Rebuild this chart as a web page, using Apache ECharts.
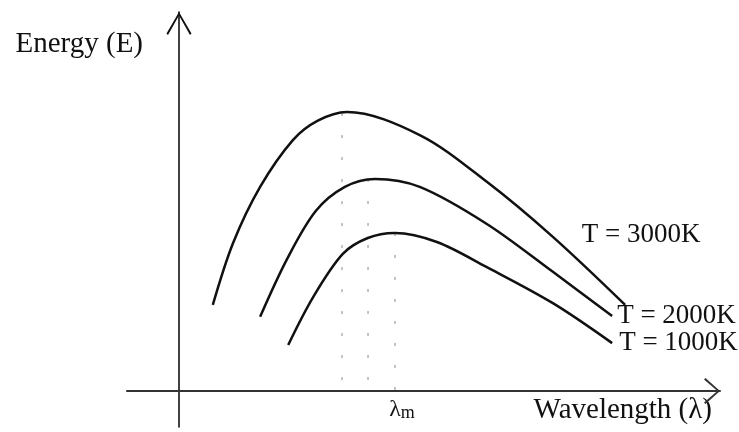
<!DOCTYPE html>
<html>
<head>
<meta charset="utf-8">
<script src="https://cdn.jsdelivr.net/npm/echarts@6/dist/echarts.min.js"></script>
<style>html,body{margin:0;padding:0;background:#fff}#c{width:739px;height:432px}</style>
</head>
<body>
<div id="c"></div>
<script>
// Wavelength (arbitrary units) and energy (arbitrary units)
const wl3000 = [0.65, 1.04, 1.56, 2.19, 2.67, 3.23, 4.63, 5.92, 7.19, 8.58];
const e3000  = [2.39, 4.11, 5.67, 6.97, 7.51, 7.75, 7.11, 5.81, 4.28, 2.39];
const wl2000 = [1.56, 2.08, 2.63, 3.19, 3.77, 4.63, 5.92, 7.19, 8.33];
const e2000  = [2.06, 3.67, 5.00, 5.67, 5.89, 5.67, 4.64, 3.31, 2.08];
const wl1000 = [2.10, 2.58, 3.15, 3.63, 4.15, 4.96, 5.92, 7.19, 8.33];
const e1000  = [1.28, 2.61, 3.81, 4.25, 4.39, 4.14, 3.44, 2.44, 1.33];
const peakWl = [3.135, 3.635, 4.154];
const peakE  = [7.72, 5.89, 4.39];
const tempLabels = ['T = 3000K', 'T = 2000K', 'T = 1000K'];
const axisNames = ['Wavelength (λ)', 'Energy (E)'];
const peakLabel = ['λ', 'm'];

const FONT = 'Liberation Serif';
const zip = (a, b) => a.map((v, i) => [v, b[i]]);

const chart = echarts.init(document.getElementById('c'), null, {renderer: 'canvas'});

const curveBase = {
  type: 'line', smooth: 0.33, showSymbol: false, symbol: 'none', z: 5,
  lineStyle: {color: '#111', width: 2.5}
};

const curves = [
  {data: zip(wl3000, e3000), label: tempLabels[0], pad: [0, 0, 140, 22], align: 'center'},
  {data: zip(wl2000, e2000), label: tempLabels[1], pad: [0, 0, 0, 0], align: 'left'},
  {data: zip(wl1000, e1000), label: tempLabels[2], pad: [0, 0, 0, 2], align: 'left'}
].map(c => Object.assign({}, curveBase, {
  data: c.data,
  endLabel: {
    show: true, formatter: '{t|' + c.label + '}', distance: 5, align: c.align, verticalAlign: 'middle',
    padding: c.pad,
    rich: {t: {color: '#111', fontFamily: FONT, fontSize: 27}}
  }
}));

const peaks = peakWl.map((w, i) => ({
  type: 'line', showSymbol: false, symbol: 'none', z: 2,
  data: [[w, peakE[i]], [w, 0]],
  lineStyle: {color: '#888', width: 1, type: [3, 19]},
  endLabel: i === 2 ? {
    show: true, distance: 0, align: 'center', verticalAlign: 'middle',
    padding: [38, 0, 0, 14],
    formatter: '{a|' + peakLabel[0] + '}{b|' + peakLabel[1] + '}',
    rich: {
      a: {fontFamily: FONT, fontSize: 24, color: '#111'},
      b: {fontFamily: FONT, fontSize: 18, color: '#111', padding: [6, 0, 0, 0]}
    }
  } : {show: false}
}));

chart.setOption({
  animation: false,
  backgroundColor: '#fff',
  grid: {left: 127, right: 19, top: 12, bottom: 5, containLabel: false},
  xAxis: {
    type: 'value', min: -1, max: 10.404,
    name: '{t|' + axisNames[0] + '}', nameLocation: 'end', nameGap: 0,
    nameTextStyle: {
      align: 'right', verticalAlign: 'middle', padding: [38, 8, 0, 0],
      rich: {t: {fontFamily: FONT, fontSize: 29, color: '#111'}}
    },
    axisLine: {
      show: true, onZero: true,
      lineStyle: {color: '#333', width: 2},
      symbol: ['none', 'path://M13,0 L26,14.5 L24.5,16 L13,2.6 L1.5,16 L0,14.5 Z'],
      symbolSize: [26, 16], symbolOffset: [0, -8]
    },
    axisTick: {show: false}, axisLabel: {show: false}, splitLine: {show: false}
  },
  yAxis: {
    type: 'value', min: -1, max: 10.528,
    name: '{t|' + axisNames[1] + '}', nameLocation: 'end', nameGap: 0,
    nameTextStyle: {
      align: 'right', verticalAlign: 'middle', padding: [64, 36, 0, 0],
      rich: {t: {fontFamily: FONT, fontSize: 29, color: '#111'}}
    },
    axisLine: {
      show: true, onZero: true,
      lineStyle: {color: '#111', width: 1.6},
      symbol: ['none', 'path://M12.5,0 L25,21.5 L23.5,23 L12.5,3.5 L1.5,23 L0,21.5 Z'],
      symbolSize: [25, 23], symbolOffset: [0, -11.5]
    },
    axisTick: {show: false}, axisLabel: {show: false}, splitLine: {show: false}
  },
  series: [...peaks, ...curves]
});
</script>
</body>
</html>
